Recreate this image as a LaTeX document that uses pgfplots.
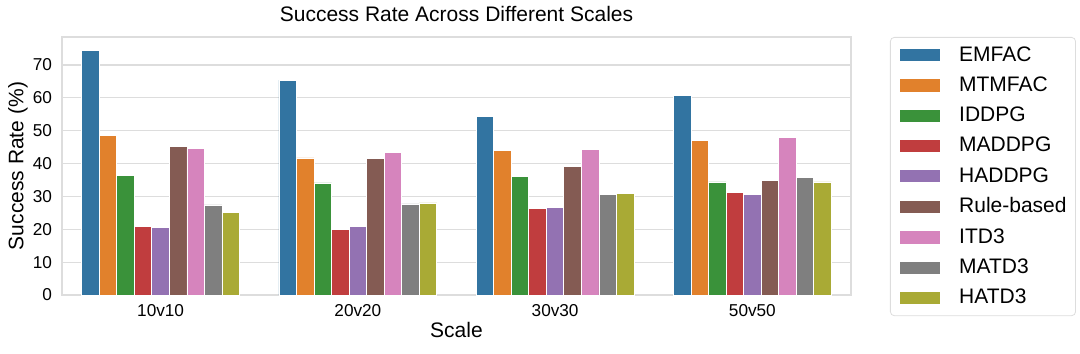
\documentclass[border=0pt]{standalone}
\usepackage{pgfplots}
\usepackage{pgfplotstable}
\pgfplotsset{compat=1.18}
\usepackage{fontspec}
\setmainfont{Liberation Sans}

\definecolor{cA}{HTML}{3274A1}
\definecolor{cB}{HTML}{E1812C}
\definecolor{cC}{HTML}{3A923A}
\definecolor{cD}{HTML}{C03D3E}
\definecolor{cE}{HTML}{9372B2}
\definecolor{cF}{HTML}{845B53}
\definecolor{cG}{HTML}{D684BD}
\definecolor{cH}{HTML}{7F7F7F}
\definecolor{cI}{HTML}{A9AA35}
\definecolor{gridc}{HTML}{DDDDDD}

% success rate per scale
\pgfplotstableread{
x EMFAC MTMFAC IDDPG MADDPG HADDPG Rule ITD3 MATD3 HATD3
0 74.5 48.6 36.5 20.9 20.5 45.1 44.5 27.4 25.2
1 65.4 41.7 34.1 20.0 20.9 41.5 43.5 27.7 28.0
2 54.2 43.9 36.2 26.3 26.7 39.1 44.2 30.5 30.9
3 60.8 47.0 34.4 31.2 30.7 34.9 48.0 35.9 34.4
}\rates

\begin{document}
\begin{tikzpicture}
\useasboundingbox (-31pt,-29pt) rectangle (509pt,147.5pt);
\begin{axis}[
    scale only axis,
    width=394.5pt, height=129pt,
    ybar=0pt, bar width=0.0889,
    xmin=-0.5, xmax=3.5,
    ymin=0, ymax=78.5,
    xtick=data,
    xticklabels={10v10,20v20,30v30,50v50},
    ytick={0,10,...,70},
    major tick length=0pt,
    ymajorgrids,
    grid style={gridc, line width=0.6pt},
    axis line style={gridc, line width=0.6pt},
    tick label style={font=\fontsize{8.6}{10}\selectfont},
    /pgf/number format/assume math mode=true,
    yticklabel style={xshift=-1.5pt},
    xticklabel style={yshift=-1pt},
    title={Success Rate Across Different Scales},
    every axis title/.style={at={(axis description cs:0.5,1)}, anchor=base,
        yshift=7.5pt, font=\fontsize{10.5}{12}\selectfont},
    xlabel={Scale},
    ylabel={Success Rate (\%)},
    label style={font=\fontsize{10.5}{12}\selectfont},
    xlabel style={at={(axis description cs:0.5,0)}, anchor=center, yshift=-17.5pt},
    ylabel style={at={(axis description cs:-0.0558,0.5)}, anchor=center},
    legend style={at={(axis description cs:1.0494,1)}, anchor=north west,
        draw=gridc, rounded corners=2pt, font=\fontsize{10.5}{12}\selectfont,
        row sep=2.3pt, column sep=9pt, inner xsep=4.5pt, inner ysep=2.5pt,
        nodes={inner xsep=0pt}},
    legend cell align=left,
    legend image code/.code={\fill[#1, sharp corners] (0pt,-3.3pt) rectangle (20.5pt,3.3pt);},
    every axis plot/.append style={draw=white, line width=0.4pt},
]
\addplot[fill=cA] table[x=x, y=EMFAC] {\rates};
\addplot[fill=cB] table[x=x, y=MTMFAC] {\rates};
\addplot[fill=cC] table[x=x, y=IDDPG] {\rates};
\addplot[fill=cD] table[x=x, y=MADDPG] {\rates};
\addplot[fill=cE] table[x=x, y=HADDPG] {\rates};
\addplot[fill=cF] table[x=x, y=Rule] {\rates};
\addplot[fill=cG] table[x=x, y=ITD3] {\rates};
\addplot[fill=cH] table[x=x, y=MATD3] {\rates};
\addplot[fill=cI] table[x=x, y=HATD3] {\rates};
\legend{EMFAC,MTMFAC,IDDPG,MADDPG,HADDPG,Rule-based,ITD3,MATD3,HATD3}
\end{axis}
\end{tikzpicture}
\end{document}
